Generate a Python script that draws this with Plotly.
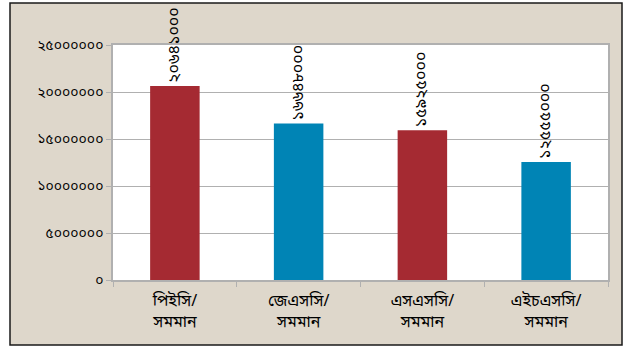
import plotly.graph_objects as go

categories = ["পিইসি/<br>সমমান", "জেএসসি/<br>সমমান", "এসএসসি/<br>সমমান", "এইচএসসি/<br>সমমান"]
values = [20641000, 16648000, 15925000, 12555000]
value_labels = ["২০৬৪১০০০", "১৬৬৪৮০০০", "১৫৯২৫০০০", "১২৫৫৫০০০"]
bar_colors = ["#A52A32", "#0084B5", "#A52A32", "#0084B5"]
tick_values = [0, 5000000, 10000000, 15000000, 20000000, 25000000]
tick_labels = ["০", "৫০০০০০০", "১০০০০০০০", "১৫০০০০০০", "২০০০০০০০", "২৫০০০০০০"]

FONT = "Noto Sans Bengali, Vrinda, Noto Sans, DejaVu Sans, sans-serif"
W, H = 628, 349
L, R, T, B = 113, 20, 45, 69
pw, ph = W - L - R, H - T - B

def px_x(p):
    return (p - L) / pw

def px_y(p):
    return (H - B - p) / ph

fig = go.Figure(go.Bar(
    x=categories, y=values, marker_color=bar_colors, marker_line_width=0,
    text=value_labels, textposition="outside", textangle=-90,
    constraintext="none", cliponaxis=False,
    textfont=dict(family=FONT, size=16, color="#000000"),
    hoverinfo="skip",
))

fig.update_layout(
    width=W, height=H,
    margin=dict(l=L, r=R, t=T, b=B),
    paper_bgcolor="#FFFFFF", plot_bgcolor="#FFFFFF",
    bargap=0.6, showlegend=False,
    font=dict(family=FONT, color="#000000"),
    shapes=[
        dict(type="rect", xref="paper", yref="paper",
             x0=px_x(10), x1=px_x(622), y0=px_y(345), y1=px_y(3),
             fillcolor="#DED7CB", line=dict(color="#1A1A1A", width=1.5), layer="below"),
        dict(type="rect", xref="paper", yref="paper", x0=0, x1=1, y0=0, y1=1,
             fillcolor="#FFFFFF", line=dict(width=0), layer="below"),
    ],
)
fig.update_xaxes(
    showline=True, linecolor="#B0B0B0", linewidth=1.5, mirror=True,
    ticks="outside", tickson="boundaries", ticklen=5, tickcolor="#B0B0B0",
    tickfont=dict(family=FONT, size=16, color="#000000"),
    ticklabelstandoff=5,
    showgrid=False,
)
fig.update_yaxes(
    range=[0, 25000000], tickvals=tick_values, ticktext=tick_labels,
    showline=True, linecolor="#B0B0B0", linewidth=1.5, mirror=True,
    ticks="outside", ticklen=5, tickcolor="#B0B0B0",
    showgrid=True, gridcolor="#B0B0B0", gridwidth=1,
    tickfont=dict(family=FONT, size=14, color="#000000"),
    zeroline=False,
)
fig.write_html("out.html", config={"displayModeBar": False},
               post_script="document.body.style.margin='0';")
